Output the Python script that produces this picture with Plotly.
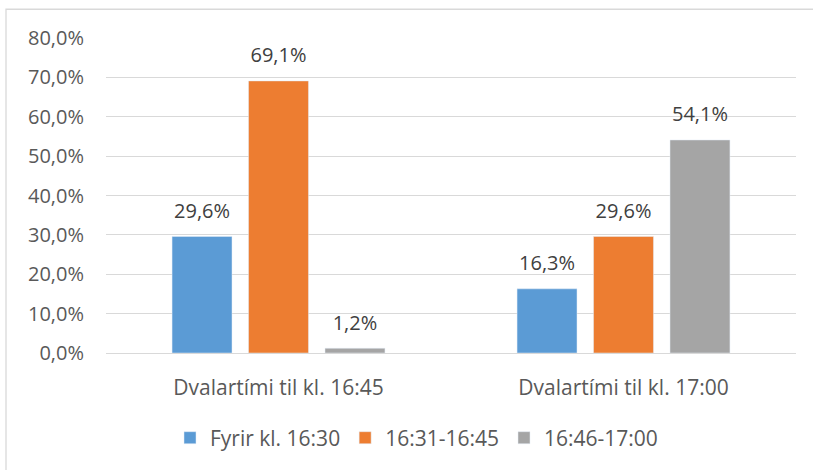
import plotly.graph_objects as go

categories = ["Dvalartími til kl. 16:45", "Dvalartími til kl. 17:00"]
series_names = ["Fyrir kl. 16:30", "16:31-16:45", "16:46-17:00"]
fyrir_1630 = [0.296, 0.163]
t_1631_1645 = [0.691, 0.296]
t_1646_1700 = [0.012, 0.541]
colors = ["#5B9BD5", "#ED7D31", "#A5A5A5"]

FONT = "Open Sans"
values = [fyrir_1630, t_1631_1645, t_1646_1700]

fig = go.Figure()
for name, vals, col in zip(series_names, values, colors):
    fig.add_trace(go.Bar(x=categories, y=vals, name=name, marker_color=col,
                         offsetgroup=name, hoverinfo="skip"))

# data labels, grouped the same way as the bars
for name, vals in zip(series_names, values):
    fig.add_trace(go.Scatter(x=categories, y=vals, mode="markers+text", showlegend=False,
                             text=[f"{v*100:.1f}%".replace(".", ",") for v in vals],
                             textposition="top center", offsetgroup=name,
                             textfont=dict(family=FONT, size=20, color="#404040"),
                             marker=dict(size=20, opacity=0), cliponaxis=False,
                             hoverinfo="skip"))

fig.update_layout(
    width=813, height=470,
    margin=dict(l=106, r=17, t=38, b=114),
    paper_bgcolor="white", plot_bgcolor="white",
    barmode="group", bargap=0.335, bargroupgap=0.216,
    scattermode="group", scattergap=0.335,
    separators=",.",
    font=dict(family=FONT, size=20, color="#595959"),
    legend=dict(orientation="h", x=0.45, xanchor="center", y=-0.27, yanchor="middle",
                font=dict(family=FONT, size=21, color="#595959"), itemwidth=30,
                traceorder="normal"),
    showlegend=True,
)
fig.update_yaxes(range=[0, 0.8], dtick=0.1, tickformat=".1%", showgrid=True,
                 gridcolor="#D9D9D9", gridwidth=1.3, zeroline=False, ticks="",
                 ticklabelstandoff=21, tickfont=dict(family=FONT, size=20, color="#595959"))
fig.update_xaxes(showline=True, linecolor="#D9D9D9", linewidth=1.3, ticks="",
                 ticklabelstandoff=16, tickfont=dict(family=FONT, size=21, color="#595959"))

# chart border
fig.add_shape(type="rect", xref="paper", yref="paper",
              x0=(6 - 106) / 690, x1=(830 - 106) / 690,
              y0=(356 - 490) / 318, y1=(356 - 9) / 318,
              line=dict(color="#D9D9D9", width=1.3), layer="below")

fig.write_html("out.html", config={"displayModeBar": False},
               post_script="document.body.style.margin='0';")
